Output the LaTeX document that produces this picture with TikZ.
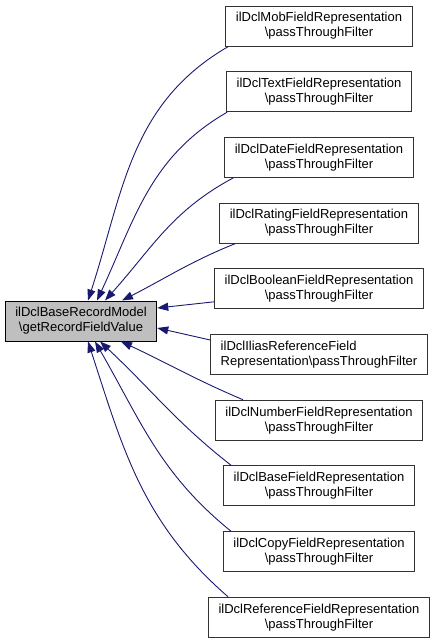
\documentclass[tikz,border=0pt]{standalone}
\usepackage{fontspec}
\setmainfont{Liberation Sans}
\usepackage{xcolor}
\usepackage{tikz}
\usetikzlibrary{arrows.meta,positioning}
\definecolor{midnight}{HTML}{191970}
\definecolor{recgray}{HTML}{BFBFBF}

\begin{document}
\begin{tikzpicture}[
  x=1pt,y=1pt,
  node distance=24.7pt,
  box/.style={draw=black!80,line width=1pt,fill=white,align=center,minimum height=40pt,inner xsep=10pt,inner ysep=3pt,font=\fontsize{13}{15}\selectfont},
  arr/.style={{Triangle[length=11pt,width=8pt]}-,line width=0.9pt,draw=midnight}
]
\useasboundingbox (0,0) rectangle (437,-640);
\node[box,fill=recgray,draw=black] (rec) at (81,-321) {ilDclBaseRecordModel\\\textbackslash getRecordFieldValue};
\node[box] (mob) at (319,-26) {ilDclMobFieldRepresentation\\\textbackslash passThroughFilter};
\node[box,below=of mob] (txt) {ilDclTextFieldRepresentation\\\textbackslash passThroughFilter};
\node[box,below=of txt] (date) {ilDclDateFieldRepresentation\\\textbackslash passThroughFilter};
\node[box,below=of date] (rating) {ilDclRatingFieldRepresentation\\\textbackslash passThroughFilter};
\node[box,below=of rating] (bool) {ilDclBooleanFieldRepresentation\\\textbackslash passThroughFilter};
\node[box,below=of bool,align=left] (ilias) {ilDclIliasReferenceField\\Representation\textbackslash passThroughFilter};
\node[box,below=of ilias] (num) {ilDclNumberFieldRepresentation\\\textbackslash passThroughFilter};
\node[box,below=of num] (base) {ilDclBaseFieldRepresentation\\\textbackslash passThroughFilter};
\node[box,below=of base] (copy) {ilDclCopyFieldRepresentation\\\textbackslash passThroughFilter};
\node[box,below=of copy] (ref) {ilDclReferenceFieldRepresentation\\\textbackslash passThroughFilter};
\foreach \u/\d/\o/\i/\t in {mob/3/210/72/7,txt/1/210/65/16,date/9/208/48/24,rating/16/202/27/41} {\draw[arr] ([xshift=\t pt]rec.north) to[out=\i,in=\o] ([xshift=\d pt]\u.south west);}
\foreach \u/\d/\o/\i/\t in {num/28/157/-25/40,base/8/142/-43/19,copy/8/141/-60/14,ref/20/139/-72/7} {\draw[arr] ([xshift=\t pt]rec.south) to[out=\i,in=\o] ([xshift=\d pt]\u.north west);}
\draw[arr] ([yshift=13pt]rec.east) -- ([yshift=-13pt]bool.west);
\draw[arr] ([yshift=-7pt]rec.east) -- ([yshift=14.5pt]ilias.west);
\end{tikzpicture}
\end{document}
